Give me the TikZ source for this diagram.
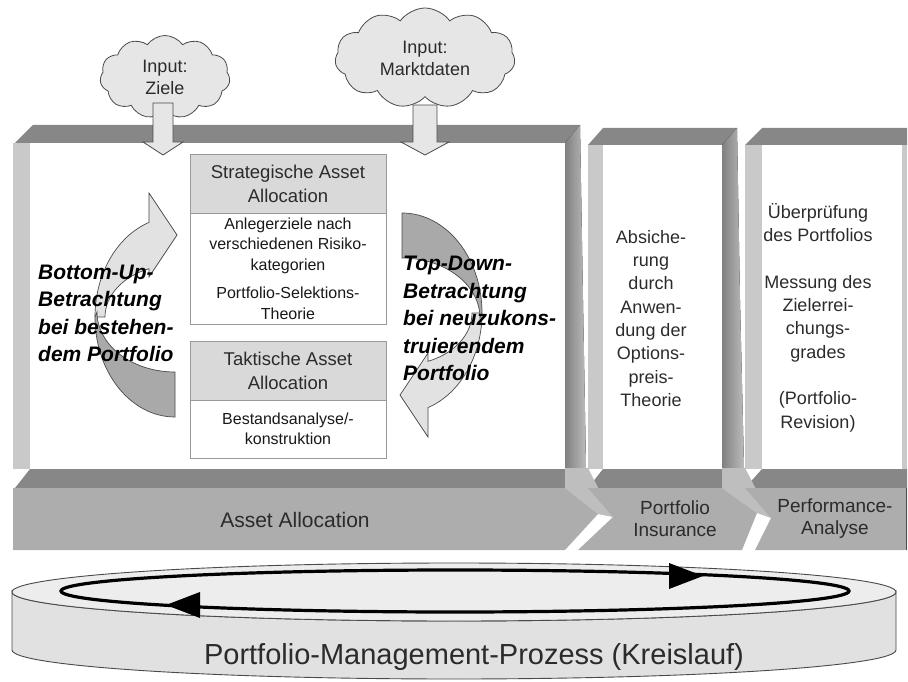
\documentclass[tikz,border=0pt]{standalone}
\usepackage{fontspec}
\setmainfont{Liberation Sans}
\usetikzlibrary{shapes.symbols}

\definecolor{barDark}{HTML}{878787}
\definecolor{barLight}{HTML}{C9C9C9}
\definecolor{bandFace}{HTML}{ADADAD}
\definecolor{jointFace}{HTML}{BEBEBE}
\definecolor{cloudFill}{HTML}{E6E6E6}
\definecolor{lineGray}{HTML}{4A4A4A}
\definecolor{headFill}{HTML}{D9D9D9}
\definecolor{arrLight}{HTML}{E2E2E2}
\definecolor{arrDark}{HTML}{A9A9A9}
\definecolor{txt}{HTML}{2B2B2B}
\definecolor{diskTop}{HTML}{EDEDED}
\definecolor{diskSide}{HTML}{E1E1E1}

\newcommand{\fsz}[2]{\fontsize{#1}{#2}\selectfont}

% curved ribbon arrow, drawn around the origin (tail at top-left, head at bottom-left)
\newcommand{\ribbonarrow}{%
  \filldraw[ribbonlight]
    (80,0) arc[start angle=0, end angle=71, x radius=80, y radius=100]
    -- (26,124) -- (-2,82) -- (26,40) -- (26,48.3)
    arc[start angle=68.2, end angle=0, x radius=70, y radius=52] -- cycle;
  \filldraw[ribbondark]
    (0,-100) arc[start angle=270, end angle=360, x radius=80, y radius=100]
    -- (78,5) arc[start angle=0, end angle=-90, x radius=78, y radius=60] -- cycle;
}

\begin{document}
\begin{tikzpicture}[x=1pt, y=-1pt,
  topbar/.style={fill=barDark},
  sidebar/.style={fill=barLight},
  rightbar/.style={left color=barDark!95!black, right color=barLight!80!barDark},
  bandface/.style={fill=bandFace},
  joint/.style={fill=jointFace},
  bandlabel/.style={align=center, text=txt, inner sep=0pt},
  cloudbox/.style={cloud, cloud puffs=11, cloud puff arc=110, cloud ignores aspect,
    fill=cloudFill, draw=lineGray, line width=0.8pt, inner sep=0pt,
    align=center, text=txt, font=\fsz{18}{22}},
  blockarrow/.style={fill=cloudFill, draw=lineGray, line width=0.8pt, line join=miter},
  headbox/.style={draw=gray!80, line width=0.7pt, fill=headFill, minimum width=196,
    align=center, text=txt, font=\fsz{18.5}{24}, inner sep=0pt},
  bodybox/.style={draw=gray!80, line width=0.7pt, fill=white, minimum width=196,
    align=center, text=black!90, font=\fsz{16}{20.5}, inner sep=0pt},
  ribbonlight/.style={fill=arrLight, draw=lineGray, line width=0.7pt},
  ribbondark/.style={fill=arrDark, draw=lineGray, line width=0.7pt},
  viewtext/.style={anchor=west, align=left, inner sep=0pt, text=black,
    font=\fsz{21}{27.4}\bfseries\itshape},
  coltext/.style={align=center, inner sep=0pt, text=txt, font=\fsz{18}{23.3}},
  ringhead/.style={fill=black}
]
\useasboundingbox (0,0) rectangle (908,682);

% ---------- phase frames ----------
% Asset Allocation frame
\fill[topbar] (15,143) -- (33,125) -- (580,125) -- (565,143) -- cycle;
\fill[sidebar] (13,143) rectangle (30,469);
\fill[rightbar] (565,143) -- (580,125) -- (583,300) -- (586,468) -- (565,468) -- cycle;
\fill[topbar] (15,488) -- (30,469) -- (565,469) -- (565,488) -- cycle;

% Portfolio Insurance frame
\fill[topbar] (588,145) -- (603,128) -- (737,128) -- (722,145) -- cycle;
\fill[sidebar] (588,145) rectangle (603,469);
\fill[rightbar] (722,145) -- (737,128) -- (740,300) -- (744,468) -- (722,468) -- cycle;
\fill[topbar] (588,488) -- (603,469) -- (722,469) -- (722,488) -- cycle;

% Performance-Analyse frame
\fill[topbar] (745,145) -- (762,128) -- (907,128) -- (907,145) -- cycle;
\fill[sidebar] (745,145) rectangle (762,469);
\fill[sidebar] (902,145) rectangle (907,469);
\fill[topbar] (745,488) -- (762,469) -- (907,469) -- (907,488) -- cycle;

% joints between the chevrons
\fill[joint] (565,468) -- (588,468) -- (613,517) -- (598,514) -- (565,488) -- cycle;
\fill[joint] (722,468) -- (745,468) -- (771,518) -- (757,513) -- (722,488) -- cycle;

% chevron fronts
\fill[bandface] (13,488) -- (565,488) -- (598,514) -- (565,550) -- (13,550) -- cycle;
\fill[bandface] (588,488) -- (722,488) -- (757,513) -- (742,550) -- (578,550) -- (613,517) -- cycle;
\fill[bandface] (745,488) -- (907,488) -- (907,550) -- (755,550) -- (771,518) -- cycle;
\draw[gray!60!black, line width=0.8pt] (906.5,488) -- (906.5,550);

\node[bandlabel, font=\fsz{21}{25}] (aaLabel) at (295,519.5) {Asset Allocation};
\node[bandlabel, font=\fsz{19}{22}] (piLabel) at (675,519) {Portfolio\\Insurance};
\node[bandlabel, font=\fsz{19}{22}] (paLabel) at (835,519) {Performance-\\Analyse};

% ---------- inputs ----------
\node[cloudbox, minimum width=130, minimum height=83] (zielCloud) at (165,77) {Input:\\Ziele};
\node[cloudbox, minimum width=180, minimum height=100] (marktCloud) at (425,58) {Input:\\Marktdaten};

\filldraw[blockarrow] (153,103) -- (173,103) -- (173,142) -- (183,142) -- (163,155)
  -- (143,142) -- (153,142) -- cycle;
\filldraw[blockarrow] (413,105) -- (437,105) -- (437,142) -- (449,142) -- (425,155)
  -- (401,142) -- (413,142) -- cycle;

% ---------- strategic / tactical allocation ----------
\node[headbox, minimum height=59] (stratHead) at (288,183.5) {Strategische Asset\\Allocation};
\node[bodybox, minimum height=111] (stratBody) at (288,268.5)
  {Anlegerziele nach\\verschiedenen Risiko-\\kategorien\\[8pt]Portfolio-Selektions-\\Theorie};
\node[headbox, minimum height=59] (taktHead) at (288,370.5) {Taktische Asset\\Allocation};
\node[bodybox, minimum height=58] (taktBody) at (288,429) {Bestandsanalyse/-\\konstruktion};

% ---------- curved arrows ----------
\begin{scope}[shift={(402,313)}]
  \ribbonarrow
\end{scope}
\begin{scope}[shift={(175,317)}, rotate=180]
  \ribbonarrow
\end{scope}

\node[viewtext] (bottomUp) at (38,313.5) {Bottom-Up-\\Betrachtung\\bei bestehen-\\dem Portfolio};
\node[viewtext] (topDown) at (403,318.5) {Top-Down-\\Betrachtung\\bei neuzukons-\\truierendem\\Portfolio};

% ---------- column texts ----------
\node[coltext] (insText) at (651,318.5)
  {Absiche-\\rung\\durch\\Anwen-\\dung der\\Options-\\preis-\\Theorie};
\node[coltext] (perfText) at (818,317.5)
  {Überprüfung\\des Portfolios\\[23.5pt]Messung des\\Zielerrei-\\chungs-\\grades\\[23.5pt](Portfolio-\\Revision)};

% ---------- process disk ----------
\filldraw[fill=diskSide, draw=lineGray, line width=0.9pt]
  (12,592) -- (12,650) arc[start angle=180, end angle=0, x radius=442, y radius=29]
  -- (896,592) arc[start angle=0, end angle=180, x radius=442, y radius=29] -- cycle;
\filldraw[fill=diskTop, draw=lineGray, line width=0.9pt] (454,592) ellipse[x radius=442, y radius=29];

\draw[black, line width=3.2pt] (455,591) ellipse[x radius=394, y radius=21];
\fill[ringhead] (703,576) -- (669,563) -- (669,589) -- cycle;
\fill[ringhead] (166,605) -- (200,592) -- (200,618) -- cycle;

\node[bandlabel, font=\fsz{29}{33}] (cycleLabel) at (474,657) {Portfolio-Management-Prozess (Kreislauf)};
\end{tikzpicture}
\end{document}
